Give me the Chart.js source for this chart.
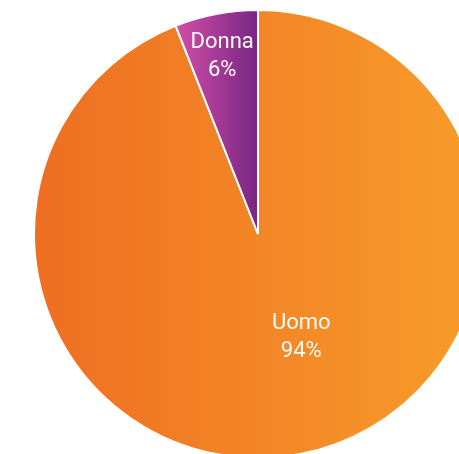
<!DOCTYPE html>
<html>
<head>
<meta charset="utf-8">
<script src="https://cdn.jsdelivr.net/npm/chart.js@4/dist/chart.umd.min.js"></script>
<style>
  html, body { margin: 0; padding: 0; background: #ffffff; overflow: hidden; width: 459px; height: 454px; }
  #wrap { position: absolute; left: 33px; top: 9px; width: 450px; height: 450px; }
</style>
</head>
<body>
<div id="wrap"><canvas id="c" width="450" height="450"></canvas></div>
<script>
const categories = ["Uomo", "Donna"];
const shares = [94, 6];
const percentLabels = ["94%", "6%"];

const gradientStops = [
  ["#EE6E22", "#F89D2A"],
  ["#D24EA8", "#772683"]
];
const sliceBorder = 2;
// label placement: fraction of radius and angular shift (degrees) from slice bisector
const labelRadius = [0.50, 0.81];
const labelShift = [-11.9, -0.6];

function sliceGeometry(chart, i) {
  const area = chart.chartArea;
  const cx = (area.left + area.right) / 2;
  const r = (Math.min(area.right - area.left, area.bottom - area.top) - sliceBorder) / 2;
  const data = chart.data.datasets[0].data;
  const total = data.reduce((a, b) => a + b, 0);
  let s = -Math.PI / 2;
  for (let k = 0; k < i; k++) s += 2 * Math.PI * data[k] / total;
  const e = s + 2 * Math.PI * data[i] / total;
  return { cx, r, s, e };
}

function boundsX(g) {
  const xs = [g.cx, g.cx + g.r * Math.cos(g.s), g.cx + g.r * Math.cos(g.e)];
  for (let k = -4; k <= 4; k++) {
    const a = k * Math.PI;
    if (a > g.s && a < g.e) xs.push(g.cx + g.r * Math.cos(a));
  }
  return [Math.min(...xs), Math.max(...xs)];
}

function sliceColor(ctx) {
  const chart = ctx.chart;
  const i = ctx.dataIndex;
  if (!chart.chartArea) return gradientStops[i][0];
  const [x0, x1] = boundsX(sliceGeometry(chart, i));
  const g = chart.ctx.createLinearGradient(x0, 0, x1, 0);
  g.addColorStop(0, gradientStops[i][0]);
  g.addColorStop(1, gradientStops[i][1]);
  return g;
}

const labelPlugin = {
  id: 'sliceLabels',
  afterDatasetsDraw(chart) {
    const ctx = chart.ctx;
    const meta = chart.getDatasetMeta(0);
    ctx.save();
    ctx.fillStyle = "#fdfaf6";
    ctx.font = "22px Roboto, sans-serif";
    ctx.textAlign = "center";
    ctx.textBaseline = "middle";
    meta.data.forEach((arc, i) => {
      const mid = (arc.startAngle + arc.endAngle) / 2 + labelShift[i] * Math.PI / 180;
      const d = arc.outerRadius * labelRadius[i];
      const x = arc.x + d * Math.cos(mid);
      const y = arc.y + d * Math.sin(mid);
      ctx.fillText(categories[i], x, y - 14);
      ctx.fillText(percentLabels[i], x, y + 14);
    });
    ctx.restore();
  }
};

new Chart(document.getElementById('c'), {
  type: 'pie',
  data: {
    labels: categories,
    datasets: [{
      data: shares,
      backgroundColor: sliceColor,
      borderColor: "#ffffff",
      borderWidth: sliceBorder
    }]
  },
  options: {
    responsive: false,
    animation: false,
    layout: { padding: 0 },
    plugins: {
      legend: { display: false },
      tooltip: { enabled: false }
    }
  },
  plugins: [labelPlugin]
});
</script>
</body>
</html>
